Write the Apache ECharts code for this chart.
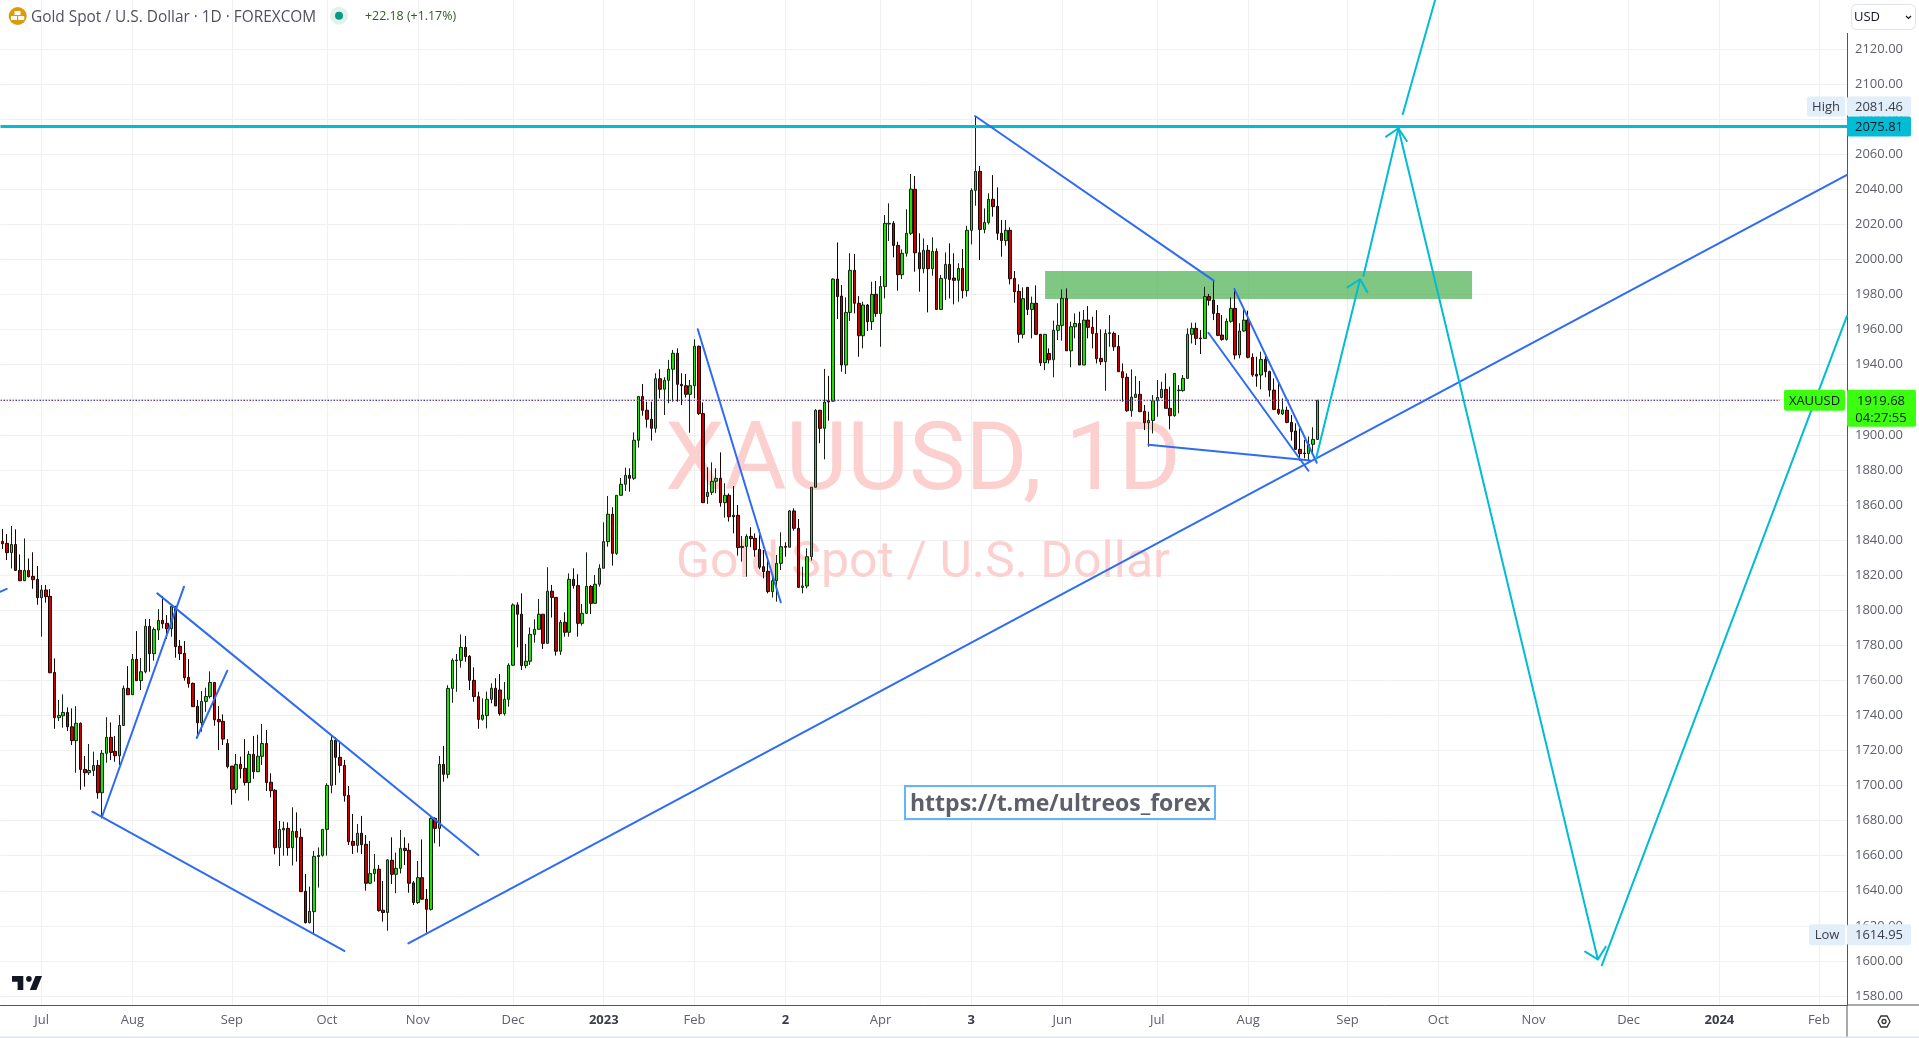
<!DOCTYPE html>
<html>
<head>
<meta charset="utf-8">
<title>Gold Spot / U.S. Dollar</title>
<script src="https://cdn.jsdelivr.net/npm/echarts@6/dist/echarts.min.js"></script>
<style>html,body{margin:0;padding:0;background:#fff;overflow:hidden}#chart{width:1919px;height:1038px}</style>
</head>
<body>
<div id="chart"></div>
<script>
// Daily bars: [open, high, low, close]
const bars2022Summer = [
[1839.2,1846.3,1834.9,1837.9],[1838.1,1843.4,1828.6,1832.8],[1832.8,1848.0,1823.8,1837.5],[1837.5,1846.1,1822.5,1822.7],
[1822.7,1831.8,1816.6,1816.8],[1816.8,1840.9,1816.6,1822.7],[1822.7,1829.5,1818.7,1819.1],[1819.3,1833.0,1812.2,1817.4],
[1817.6,1825.2,1803.1,1807.1],[1807.1,1814.3,1784.9,1811.5],[1811.5,1814.3,1804.3,1807.7],[1807.9,1812.0,1764.3,1764.3],
[1764.5,1772.5,1732.4,1738.7],[1738.7,1748.8,1736.8,1740.0],[1739.8,1752.0,1733.0,1741.7],[1741.7,1744.6,1731.1,1733.5],
[1733.5,1744.0,1723.1,1725.6],[1725.6,1745.3,1707.3,1735.5],[1735.5,1736.0,1697.6,1709.2],[1709.2,1716.8,1699.4,1707.3],
[1707.3,1723.7,1706.0,1708.6],[1708.6,1719.3,1705.4,1711.5],[1711.5,1714.6,1692.5,1695.9],[1695.9,1720.3,1681.3,1718.4],
[1718.4,1739.0,1713.0,1727.5],[1727.5,1736.0,1714.6,1718.9],[1719.5,1728.3,1713.6,1717.0],[1717.0,1740.2,1711.7,1734.3],
[1734.3,1757.0,1734.1,1755.4],[1755.4,1768.1,1751.6,1751.8],[1751.8,1775.0,1751.8,1772.0],[1772.0,1788.1,1759.6,1759.8],
[1759.8,1772.7,1754.5,1764.9],[1764.9,1795.0,1764.0,1790.8],[1790.8,1795.0,1764.9,1775.2],[1775.2,1790.2,1771.2,1789.0],
[1788.7,1800.6,1783.0,1794.2],[1794.2,1808.1,1789.6,1792.3],[1792.5,1797.2,1783.6,1789.4],[1789.4,1802.8,1784.9,1802.2],
[1802.2,1802.4,1772.9,1779.2],[1779.4,1783.0,1771.6,1775.2],[1775.4,1782.4,1759.8,1761.5],[1761.7,1772.1,1755.8,1758.1],
[1758.3,1758.7,1745.0,1745.0],[1745.2,1748.8,1727.5,1735.8],[1735.8,1753.9,1730.7,1748.0],[1748.0,1755.8,1742.1,1750.8],
[1750.8,1765.1,1749.7,1758.8],[1758.8,1758.8,1734.1,1737.5],[1737.7,1745.3,1720.2,1736.4],[1736.6,1740.6,1723.1,1726.5],
[1724.0,1726.5,1709.8,1710.8],[1711.1,1711.1,1689.1,1697.9],[1697.9,1718.0,1695.6,1712.1],[1712.1,1716.5,1704.1,1709.6],
[1709.8,1726.5,1700.0,1701.7],[1701.7,1719.7,1691.4,1717.8],[1717.8,1728.3,1703.9,1707.9],[1707.9,1729.0,1707.9,1716.7],
[1716.7,1735.1,1711.7,1724.0],[1724.0,1731.7,1696.9,1701.7],[1701.9,1707.0,1693.3,1697.1],[1697.3,1697.9,1660.8,1664.6],
[1664.6,1679.8,1654.1,1675.0],[1674.7,1679.4,1660.0,1675.6],[1675.6,1679.0,1660.0,1664.6],[1664.6,1687.6,1654.4,1673.9],
[1673.9,1684.7,1656.6,1670.5],[1670.5,1675.6,1639.5,1639.5],[1639.7,1649.6,1621.4,1621.8],[1621.8,1642.4,1621.4,1628.3],
[1628.1,1662.7,1614.95,1659.6],[1659.5,1664.7,1641.8,1660.2],[1660.2,1675.0,1659.5,1675.0]
];
const bars2022Autumn = [
[1675.0,1701.3,1660.0,1700.1],[1700.1,1728.8,1695.6,1725.8],[1725.8,1727.5,1700.3,1716.1],[1716.1,1725.6,1707.3,1711.5],
[1711.5,1714.6,1690.8,1694.2],[1694.4,1699.8,1666.1,1668.0],[1668.2,1683.8,1661.0,1665.9],[1665.9,1678.1,1661.8,1672.8],
[1672.8,1682.7,1661.0,1666.3],[1666.5,1671.8,1640.1,1644.3],[1644.3,1668.4,1643.9,1649.8],[1649.8,1661.0,1645.2,1652.3],
[1652.3,1654.7,1628.1,1628.7],[1628.9,1645.6,1622.4,1627.6],[1627.6,1658.0,1617.2,1657.6],[1657.4,1670.5,1643.9,1649.4],
[1649.4,1661.8,1638.6,1652.8],[1652.8,1674.7,1649.9,1664.2],[1664.2,1670.5,1654.7,1662.9],[1663.1,1667.1,1638.9,1644.3],
[1644.5,1645.6,1631.9,1633.3],[1633.3,1657.0,1632.5,1647.5],[1647.5,1669.3,1634.8,1635.2],[1635.2,1641.0,1616.1,1629.4],
[1629.4,1681.9,1628.7,1681.3],[1681.3,1681.9,1667.1,1675.6],[1675.6,1716.9,1665.2,1712.1],[1712.1,1722.6,1702.2,1706.4],
[1706.4,1757.2,1704.1,1755.4],[1755.4,1772.5,1747.2,1771.4],[1771.2,1775.0,1753.5,1771.6],[1771.4,1786.2,1767.2,1778.8],
[1778.8,1785.3,1770.6,1773.5],[1773.7,1774.4,1754.5,1760.0],[1760.0,1767.4,1747.8,1750.7],[1750.7,1753.5,1732.4,1737.7],
[1737.8,1749.7,1737.0,1740.2],[1739.9,1753.6,1732.6,1749.2],[1749.2,1758.3,1746.9,1755.5],[1755.5,1761.2,1745.4,1745.4],
[1754.5,1763.6,1739.9,1741.0],[1741.0,1759.1,1739.9,1749.2],[1749.2,1769.7,1745.0,1768.6],[1768.6,1803.9,1768.4,1803.0],
[1803.0,1804.5,1778.8,1797.7],[1797.7,1809.6,1765.9,1768.4],[1768.4,1780.7,1766.9,1770.9],[1770.9,1790.2,1768.8,1786.2],
[1786.2,1794.8,1781.5,1789.1],[1789.1,1806.4,1789.1,1797.7],[1797.7,1797.7,1777.9,1781.1],[1781.1,1824.5,1781.1,1810.8],
[1810.8,1814.4,1795.8,1807.3],[1807.3,1807.3,1774.1,1776.6],[1776.6,1794.4,1774.5,1793.1],[1793.1,1798.8,1784.9,1787.4],
[1787.4,1821.0,1784.9,1817.6],[1817.6,1823.9,1812.3,1814.0],[1814.0,1820.5,1784.9,1792.5],[1792.5,1803.6,1791.2,1798.2],
[1798.2,1833.0,1797.8,1813.6],[1813.6,1814.4,1797.8,1803.9],[1803.9,1820.1,1803.9,1814.8],[1814.8,1826.2,1813.4,1823.9]
];
const bars2023Spring = [
[1823.9,1850.1,1823.9,1839.1],[1839.1,1865.1,1836.2,1854.7],[1854.7,1858.7,1825.4,1832.4],[1832.4,1865.5,1831.5,1865.5],
[1865.5,1875.4,1865.5,1871.8],[1871.8,1881.3,1868.0,1876.9],[1876.9,1880.9,1867.6,1875.2],[1875.2,1901.4,1874.3,1896.9],
[1896.9,1922.2,1892.7,1921.8],[1921.8,1929.0,1910.9,1914.0],[1914.0,1918.9,1904.1,1908.9],[1908.9,1918.9,1896.7,1903.7],
[1903.7,1935.1,1901.2,1932.0],[1932.0,1937.4,1920.8,1926.0],[1926.0,1932.8,1911.3,1931.1],[1931.1,1942.7,1918.0,1937.4],
[1937.4,1948.4,1918.9,1946.5],[1946.5,1949.3,1918.9,1928.8],[1928.8,1935.1,1917.0,1928.0],[1928.0,1934.7,1921.2,1923.1],
[1923.1,1931.3,1901.2,1928.0],[1928.0,1954.5,1920.8,1950.5],[1950.5,1950.9,1911.3,1912.1],[1912.1,1918.5,1861.3,1861.3],
[1864.8,1881.5,1860.6,1867.2],[1867.2,1884.3,1865.7,1873.5],[1873.5,1880.9,1866.7,1875.2],[1875.2,1890.0,1859.0,1861.3],
[1861.3,1872.4,1852.8,1865.5],[1865.5,1866.6,1850.5,1853.3],[1854.1,1870.8,1843.8,1853.3],[1854.1,1860.0,1831.1,1835.7],
[1835.7,1842.3,1827.7,1836.4],[1836.4,1843.3,1819.1,1842.1],[1842.1,1847.3,1835.9,1840.8],[1841.0,1843.8,1830.5,1834.5],
[1834.7,1846.1,1823.3,1824.5],[1824.8,1834.3,1818.2,1822.0],[1822.2,1828.3,1809.6,1810.6],[1810.6,1820.1,1807.2,1816.8],
[1816.8,1831.5,1804.9,1826.7],[1826.7,1844.4,1822.9,1836.2],[1836.4,1838.7,1830.5,1835.9],[1835.9,1857.1,1835.9,1856.6],
[1856.6,1858.1,1845.4,1846.7],[1846.7,1852.0,1813.0,1813.0],[1813.0,1824.8,1809.6,1813.8],[1813.8,1835.3,1812.5,1830.5],
[1830.5,1870.1,1828.3,1870.1],[1870.1,1914.6,1870.1,1914.0],[1914.0,1914.2,1895.2,1903.7],[1903.7,1937.6,1886.0,1918.7],
[1919.5,1933.6,1908.1,1918.7],[1919.2,1989.2,1918.9,1988.8],[1988.8,2009.7,1966.0,1978.8],[1979.1,1985.4,1936.0,1939.8],
[1939.8,1978.4,1934.7,1969.8],[1969.8,2003.5,1964.9,1993.8],[1993.8,2003.1,1969.2,1975.0],[1975.0,1979.1,1944.5,1956.5],
[1956.5,1975.9,1949.3,1974.0],[1974.0,1974.6,1959.2,1964.5],[1964.5,1987.3,1959.7,1980.1],[1980.1,1987.7,1967.3,1969.2],
[1969.2,1990.5,1950.2,1984.6],[1984.6,2025.3,1977.8,2020.6],[2020.2,2032.0,2010.5,2020.6],[2020.6,2021.9,2001.2,2008.0],
[2008.0,2010.1,1982.2,1991.3],[1991.3,2005.7,1988.8,2003.5],[2003.5,2028.6,2001.6,2014.9],[2014.9,2048.7,2013.9,2040.1],
[2040.0,2047.6,1993.0,2003.8],[2003.8,2014.9,1981.6,1994.7],[1994.7,2012.0,1992.1,2005.2],[2005.2,2008.2,1969.8,1994.7],
[1994.7,2012.6,1990.7,2004.6],[2004.6,2006.3,1971.5,1971.5],[1971.5,1991.1,1971.5,1989.2],[1989.2,2004.0,1976.9,1997.2],
[1997.2,2009.2,1977.8,1988.6],[1989.4,2003.5,1974.4,1988.1],[1988.1,1997.8,1975.9,1994.9],[1994.9,2005.9,1977.8,1982.2]
];
const bars2023Summer = [
[1982.2,2019.2,1978.8,2016.6],[2016.6,2040.5,2008.6,2039.4],[2039.4,2081.46,2030.6,2050.2],[2050.2,2053.3,1999.7,2017.1],
[2017.1,2029.1,2014.9,2021.1],[2021.1,2037.7,2020.0,2034.3],[2034.3,2048.1,2024.4,2030.1],[2030.3,2041.1,2011.1,2014.9],
[2014.9,2022.5,2001.6,2010.7],[2010.7,2022.5,2007.8,2016.6],[2016.6,2018.3,1985.8,1989.0],[1989.2,1993.4,1975.3,1981.6],
[1981.8,1985.8,1952.5,1957.3],[1957.3,1984.1,1955.0,1977.6],[1984.1,1984.1,1968.3,1971.5],[1971.5,1978.8,1955.0,1975.0],
[1975.0,1985.2,1956.9,1957.3],[1957.3,1957.5,1939.2,1941.1],[1941.1,1957.3,1936.9,1957.3],[1946.4,1949.3,1940.7,1942.8],
[1942.8,1965.1,1932.8,1959.6],[1959.6,1975.0,1954.0,1962.4],[1962.4,1982.9,1953.7,1977.8],[1977.8,1983.5,1947.9,1947.9],
[1947.9,1964.5,1938.5,1961.6],[1961.6,1969.2,1955.0,1963.5],[1963.5,1970.2,1939.8,1939.8],[1939.8,1971.1,1939.8,1965.4],
[1965.4,1973.4,1955.0,1961.3],[1961.3,1967.3,1949.3,1957.8],[1957.8,1971.1,1940.7,1943.4],[1943.6,1960.1,1939.8,1941.7],
[1941.7,1960.1,1925.1,1957.8],[1957.8,1968.3,1950.2,1958.2],[1957.8,1958.8,1947.9,1950.2],[1950.4,1956.9,1936.0,1936.0],
[1936.0,1940.7,1918.9,1932.6],[1932.8,1935.0,1913.2,1913.7],[1913.7,1937.3,1910.3,1921.5],[1921.3,1933.5,1921.2,1923.1],
[1923.1,1930.7,1913.2,1913.2],[1913.4,1917.0,1902.7,1906.9],[1906.9,1913.2,1893.2,1908.2],[1908.2,1922.7,1900.8,1919.4],
[1919.4,1931.2,1910.3,1921.3],[1921.3,1930.3,1920.8,1925.9],[1925.9,1935.0,1915.1,1915.1],[1915.1,1927.4,1903.1,1910.9],
[1910.9,1935.0,1910.3,1935.0],[1925.2,1928.4,1912.3,1925.5],[1925.2,1934.1,1924.6,1932.2],[1932.2,1960.7,1932.2,1957.3],
[1957.3,1963.9,1952.1,1960.7],[1960.7,1963.9,1951.2,1955.0],[1955.2,1959.7,1946.1,1954.8],[1955.0,1984.4,1955.0,1978.8],
[1978.8,1980.3,1973.7,1976.7],[1976.9,1987.9,1965.4,1969.2],[1969.2,1974.0,1956.3,1956.7],[1956.9,1968.3,1953.7,1954.4],
[1954.4,1966.4,1953.7,1964.7],[1964.7,1978.4,1963.9,1972.1],[1972.1,1983.5,1943.0,1945.5],[1945.5,1963.6,1943.6,1959.2],
[1959.2,1972.1,1958.8,1965.4],[1965.4,1970.8,1943.6,1944.2],[1944.2,1946.4,1933.1,1934.1],[1934.5,1944.5,1927.4,1933.5],
[1934.1,1947.4,1925.9,1943.0],[1943.0,1946.4,1932.8,1936.0],[1936.0,1936.6,1921.7,1925.5],[1925.5,1932.2,1914.1,1914.5],
[1914.5,1930.3,1911.3,1912.3],[1911.9,1920.8,1911.3,1914.2],[1914.0,1916.1,1906.6,1907.1],[1907.1,1911.3,1896.7,1901.8],
[1902.2,1906.6,1891.4,1891.7],[1891.7,1903.7,1885.3,1889.3],[1889.6,1897.1,1886.6,1889.3],[1889.3,1899.0,1884.7,1894.6],
[1894.6,1904.3,1889.5,1897.4],[1897.4,1919.7,1897.2,1919.68]
];

const slotCount = 427;
const monthTickBars = [9,30,53,75,96,118,139,160,181,203,224,245,267,288,311,332,354,376,397,420];
const monthTickLabels = ['Jul','Aug','Sep','Oct','Nov','Dec','2023','Feb','2','Apr','3','Jun','Jul','Aug','Sep','Oct','Nov','Dec','2024','Feb'];
const boldTickLabels = ['2023','2','3','2024'];
const priceLabels = [1580,1600,1620,1640,1660,1680,1700,1720,1740,1760,1780,1800,1820,1840,1860,1880,1900,1920,1940,1960,1980,2000,2020,2040,2060,2080,2100,2120];
const priceGrid = priceLabels.concat([2140]);

// Blue trend lines drawn by hand on the chart: [bar, price] anchors
const blueLines = [
 [[-0.62,1810.5],[0.93,1812.2]],
 [[22.97,1682.2],[41.94,1813.4]],
 [[20.73,1685.1],[79.0,1605.7]],
 [[35.76,1809.6],[110.0,1660.4]],
 [[44.87,1727.1],[51.95,1765.5]],
 [[93.81,1610.0],[426.5,2048.2]],
 [[160.74,1960.2],[179.93,1804.5]],
 [[224.87,2081.8],[280.07,1987.9]],
 [[264.95,1894.4],[302.34,1885.4]],
 [[278.82,1958.2],[301.95,1879.5]],
 [[284.84,1983.1],[303.89,1884.1]]
];
// Cyan projected path with arrow heads
const cyanLines = [
 [[303.73,1886.6],[313.9,1988.7]],
 [[310.97,1984.1],[313.9,1988.7],[315.6,1981.3]],
 [[314.67,1990.6],[322.76,2074.8]],
 [[319.9,2070.0],[322.76,2074.8],[324.7,2067.5]],
 [[323.78,2082.9],[331.25,2147.9]],
 [[322.76,2074.8],[368.88,1600.9]],
 [[365.94,1605.3],[368.88,1600.9],[370.73,1608.1]],
 [[369.8,1597.5],[426.5,1967.8]]
];
const resistanceLevel = 2075.81;
const lastPrice = 1919.68;
const zoneBars = [241.06,339.8];
const zonePrices = [1993.4,1977.4];
const highPrice = 2081.46;
const lowPrice = 1614.95;

const tagNames = ['High','','XAUUSD','Low'];
const tagValues = ['2081.46','2075.81','1919.68\n04:27:55','1614.95'];
const tagPrices = [highPrice,resistanceLevel,lastPrice,lowPrice];

const TEXT_FONT = '"Open Sans", sans-serif';
const tagStyle = [
 {bg:'#e3eefb',fg:'#3a3d46',dy:-10,h:20,lw:38},
 {bg:'#00bcd4',fg:'#131722',dy:0,h:20,lw:0},
 {bg:'#3cff0f',fg:'#131722',dy:0,h:37,lw:61,lh:21},
 {bg:'#e3eefb',fg:'#3a3d46',dy:0,h:21,lw:36}
];

const bars = bars2022Summer.concat(bars2022Autumn, bars2023Spring, bars2023Summer);
const tickMap = {};
monthTickBars.forEach((b,i)=>{tickMap[b]=monthTickLabels[i];});
const categories = Array.from({length:slotCount},(_,i)=>tickMap[i]||String(i));
const isTick = (idx)=>tickMap[idx]!==undefined;

const lineSeries = (points,color,width,name)=>({
  type:'line',name:name,xAxisIndex:1,yAxisIndex:0,data:points,symbol:'none',silent:true,z:5,
  lineStyle:{color:color,width:width,cap:'round',join:'round'},animation:false
});

const series = [
 {type:'candlestick',name:'XAUUSD',xAxisIndex:0,yAxisIndex:0,z:3,barWidth:3,
  data:bars.map(b=>[b[0],b[3],b[2],b[1]]),
  itemStyle:{color:'#22dd00',color0:'#c80000',borderColor:'#142414',borderColor0:'#1a0505',borderWidth:1}},
 lineSeries([[-0.5,lastPrice],[411,lastPrice]],'#e53935',1.3,'last-red'),
 lineSeries([[-0.5,lastPrice],[411,lastPrice]],'#1f3fc8',1.3,'last-blue'),
 lineSeries([[-0.5,resistanceLevel],[426.5,resistanceLevel]],'#00bcd4',3,'resistance')
];
series[1].lineStyle.type=[1.5,4.5];
series[1].lineStyle.cap='butt';
series[2].lineStyle.type=[1.5,4.5];
series[2].lineStyle.dashOffset=3;
series[2].lineStyle.cap='butt';
series[3].lineStyle.cap='butt';
blueLines.forEach((l,i)=>series.push(lineSeries(l,'#2e6bf5',2,'blue'+i)));
cyanLines.forEach((l,i)=>series.push(lineSeries(l,'#00bcd4',2,'cyan'+i)));
series.push({type:'line',name:'zone',xAxisIndex:1,yAxisIndex:0,data:[],silent:true,z:6,
  markArea:{silent:true,itemStyle:{color:'rgba(76,175,80,0.7)'},
    data:[[{xAxis:zoneBars[0],yAxis:zonePrices[0]},{xAxis:zoneBars[1],yAxis:zonePrices[1]}]]}});
series.push({type:'custom',name:'tags',xAxisIndex:1,yAxisIndex:0,z:20,silent:true,clip:false,
  data:tagPrices.map((p,i)=>[426.5,p,i]),
  renderItem:(params,api)=>{
    const i=api.value(2), st=tagStyle[i];
    const pt=api.coord([426.5,api.value(1)]);
    const cy=pt[1]+st.dy, top=cy-(st.lh||st.h)/2, kids=[];
    const x=Math.round(pt[0]);
    kids.push({type:'rect',shape:{x:x,y:top,width:i===2?69:64,height:st.h,r:2},style:{fill:st.bg}});
    const lines=tagValues[i].split('\n');
    lines.forEach((t,k)=>kids.push({type:'text',style:{x:x+32+(i===2?2:0),y:top+1+(st.lh||st.h)/2+k*16.5,text:t,fill:st.fg,
       font:'13px '+TEXT_FONT,align:'center',verticalAlign:'middle'}}));
    if(st.lw){
      kids.push({type:'rect',shape:{x:x-st.lw-2,y:top,width:st.lw,height:st.lh||st.h,r:2},style:{fill:st.bg}});
      kids.push({type:'text',style:{x:x-2-st.lw/2,y:top+1+(st.lh||st.h)/2,text:tagNames[i],fill:st.fg,font:'13px '+TEXT_FONT,align:'center',verticalAlign:'middle'}});
    }
    return {type:'group',children:kids};
  }});

const option = {
 animation:false,
 backgroundColor:'#ffffff',
 grid:{left:0.5,right:72,top:0,bottom:33,containLabel:false},
 title:[
  {text:'XAUUSD, 1D',left:665,top:418,padding:0,z:0,textStyle:{fontFamily:'Roboto',fontWeight:'normal',fontSize:95,color:'#fdd0d0'}},
  {text:'Gold Spot / U.S. Dollar',left:676,top:539,padding:0,z:0,textStyle:{fontFamily:'Roboto',fontWeight:'normal',fontSize:50,color:'#fdd0d0'}},
  {text:'Gold Spot / U.S. Dollar · 1D · FOREXCOM',left:31,top:10,padding:0,z:10,textStyle:{fontFamily:TEXT_FONT,fontWeight:'normal',fontSize:15.4,color:'#50535e'}},
  {text:'+22.18 (+1.17%)',left:365,top:10,padding:0,z:10,textStyle:{fontFamily:TEXT_FONT,fontWeight:'normal',fontSize:12.4,color:'#2f5c20'}},
  {text:'https://t.me/ultreos_forex',left:905,top:786,padding:[7,5,3,5],z:12,borderColor:'#64b5f6',borderWidth:2,backgroundColor:'#ffffff',
   textStyle:{fontFamily:'"Open Sans"',fontWeight:'bold',fontSize:23,color:'#5d606b'}}
 ],
 xAxis:[
  {type:'category',data:categories,boundaryGap:true,
   axisLine:{onZero:false,lineStyle:{color:'#555555',width:1}},axisTick:{show:false},
   axisLabel:{interval:(idx)=>isTick(idx),margin:9,hideOverlap:false,color:'#5d606b',fontFamily:TEXT_FONT,fontSize:13,
     formatter:(v)=>boldTickLabels.includes(v)?'{b|'+v+'}':v,
     rich:{b:{fontWeight:'bold',color:'#3a3d46',fontFamily:TEXT_FONT,fontSize:13}}},
   splitLine:{show:true,interval:(idx)=>isTick(idx),alignWithLabel:true,lineStyle:{color:'#f0f0f0',width:1}}},
  {type:'value',min:-0.5,max:426.5,show:false,splitLine:{show:false}}
 ],
 yAxis:[{type:'value',position:'right',min:1574.87,max:2147.94,scale:true,
   axisLine:{show:true,onZero:false,lineStyle:{color:'#555555',width:1}},axisTick:{show:false,customValues:priceLabels},
   axisLabel:{customValues:priceLabels,margin:8,padding:[2,0,0,0],color:'#5d606b',fontFamily:TEXT_FONT,fontSize:13,formatter:(v)=>v.toFixed(2)},
   splitLine:{show:true,customValues:priceGrid,lineStyle:{color:'#f0f0f0',width:1}}}],
 series:series,
 graphic:{elements:[
  // chrome around the panes
  {type:'rect',shape:{x:1845,y:0,width:5,height:33},style:{fill:'#fff'},z:30},
  {type:'line',shape:{x1:1847,y1:1005,x2:1919,y2:1005},style:{stroke:'#555',lineWidth:1},z:30},
  {type:'line',shape:{x1:1847,y1:1005,x2:1847,y2:1037},style:{stroke:'#555',lineWidth:1},z:30},
  {type:'rect',shape:{x:0,y:1036.5,width:1919,height:1.5},style:{fill:'#e0e3eb'},z:30},
  // USD selector
  {type:'rect',shape:{x:1851.5,y:4.5,width:64,height:25,r:5},style:{fill:'#fff',stroke:'#e0e3eb',lineWidth:1},z:30},
  {type:'text',style:{x:1854,y:17,text:'USD',fill:'#131722',font:'13px '+TEXT_FONT,verticalAlign:'middle'},z:31},
  {type:'polyline',shape:{points:[[1906,16],[1908.5,18.5],[1911,16]]},style:{stroke:'#131722',lineWidth:1.2,fill:'none'},z:31},
  // settings gear
  {type:'polygon',shape:{points:[[1878,1021.5],[1881,1016],[1887,1016],[1890,1021.5],[1887,1027],[1881,1027]]},style:{fill:'none',stroke:'#333',lineWidth:1.3},z:31},
  {type:'circle',shape:{cx:1884,cy:1021.5,r:2},style:{fill:'none',stroke:'#333',lineWidth:1.3},z:31},
  // TradingView mark
  {type:'polygon',shape:{points:[[12,976],[23.3,976],[23.3,990.1],[17.6,990.1],[17.6,981.7],[12,981.7]]},style:{fill:'#131722'},z:31},
  {type:'polygon',shape:{points:[[29.8,990.1],[36.4,990.1],[42,976],[35.5,976]]},style:{fill:'#131722'},z:31},
  {type:'circle',shape:{cx:28.9,cy:978.9,r:2.8},style:{fill:'#131722'},z:31},
  // symbol coin
  {type:'circle',shape:{cx:17.7,cy:16,r:9},style:{fill:'#dd9a0a'},z:31},
  {type:'rect',shape:{x:14.5,y:11,width:6,height:4},style:{fill:'#fff'},z:32},
  {type:'rect',shape:{x:11,y:16,width:6,height:4},style:{fill:'#fff'},z:32},
  {type:'rect',shape:{x:18.2,y:16,width:6,height:4},style:{fill:'#fff'},z:32},
  // market status
  {type:'circle',shape:{cx:339,cy:15.7,r:9},style:{fill:'#e0f2ef'},z:31},
  {type:'circle',shape:{cx:339,cy:15.7,r:4},style:{fill:'#089981'},z:32}
 ]}
};
const chart = echarts.init(document.getElementById('chart'),null,{renderer:'canvas'});
chart.setOption(option);
</script>
</body>
</html>
